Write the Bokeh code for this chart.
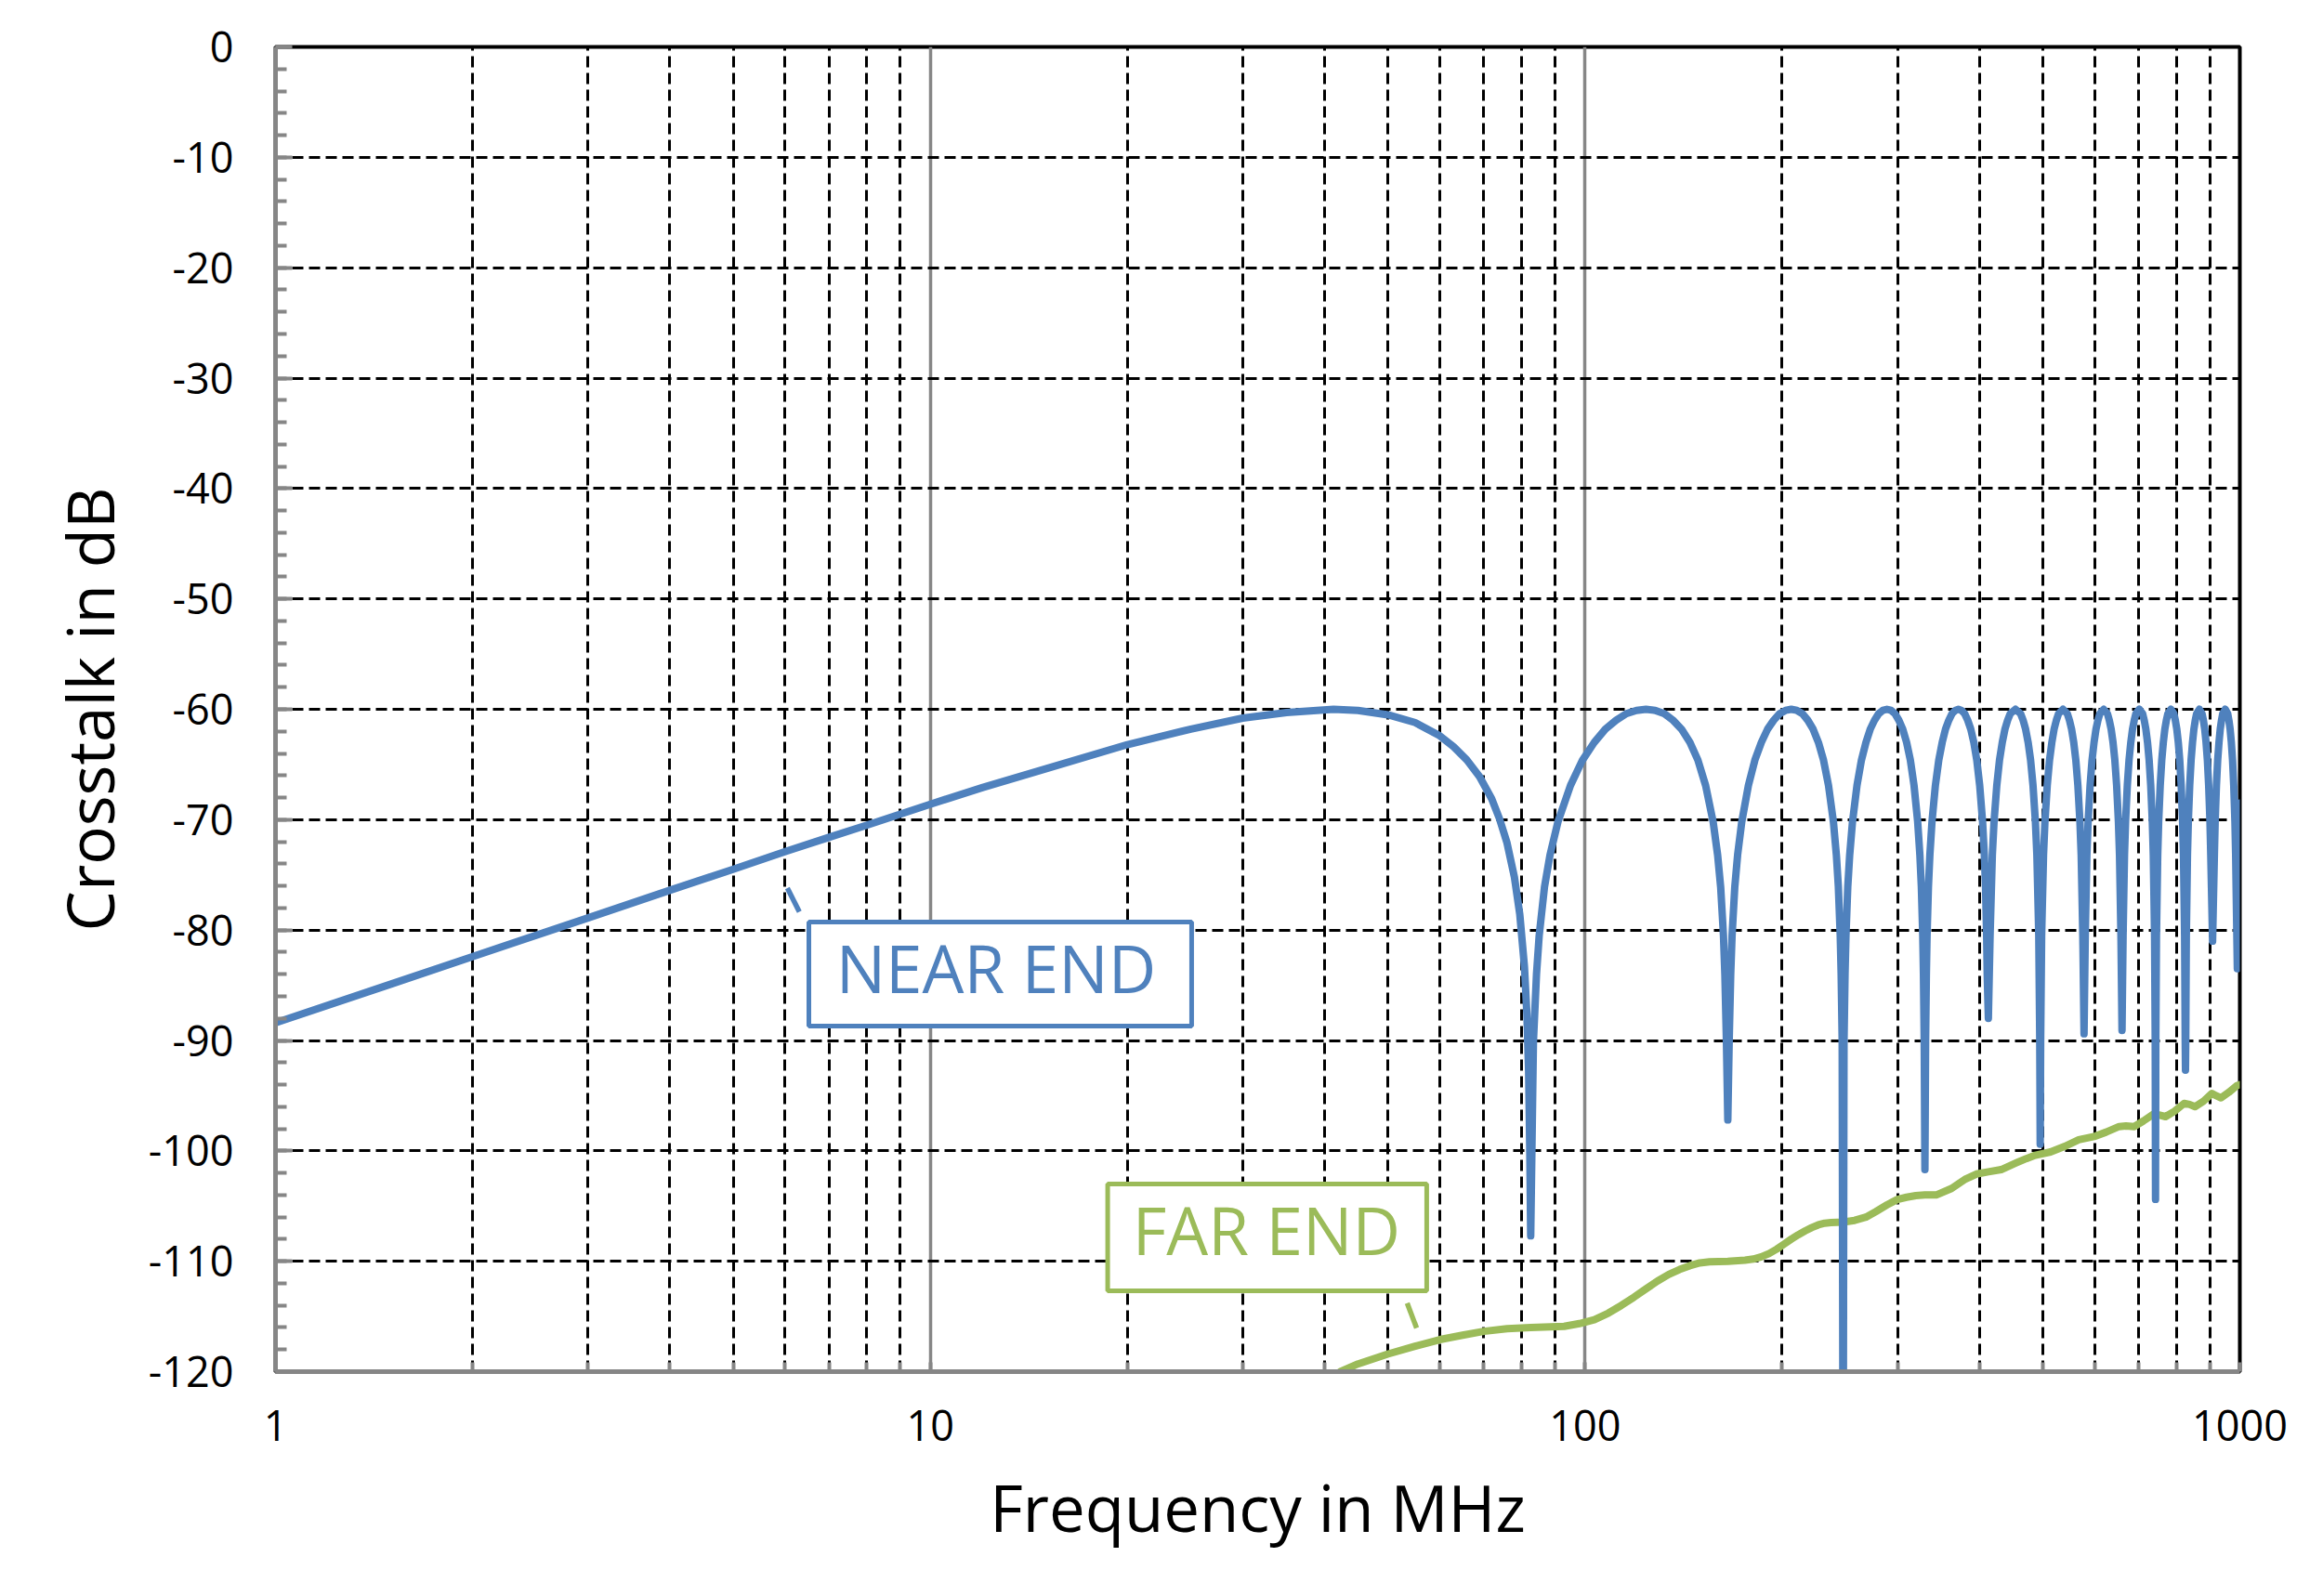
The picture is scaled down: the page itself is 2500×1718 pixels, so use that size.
from bokeh.plotting import figure
from bokeh.models import FixedTicker, PrintfTickFormatter, BoxAnnotation, Label
from bokeh.embed import file_html
from bokeh.resources import INLINE

# near end crosstalk (MHz, dB)
near_freq = [1, 1.5, 2, 3, 4, 5, 6, 7, 8, 10, 12, 15, 20, 25, 30, 35, 41.3,
             45, 50, 55, 60, 63, 66, 69, 72, 74, 76, 78, 79.5, 80.8, 81.5, 82.0, 82.35, 82.6,
             83.4, 84.3, 85.1, 86.7, 88.4, 90.9, 95.0, 99.1, 103.3, 107.4, 111.5, 115.6, 119.8, 123.9,
             128.0, 132.2, 136.3, 140.4, 144.6, 148.7, 152.8, 156.9, 159.4, 161.1, 162.7, 163.5, 164.4, 165.2,
             166.0, 166.9, 167.7, 169.3, 171.0, 173.5, 177.6, 181.7, 185.9, 190.0, 194.1, 198.2, 202.4, 206.5,
             210.6, 214.8, 218.9, 223.0, 227.2, 231.3, 235.4, 239.5, 242.0, 243.7, 245.3, 246.1, 247.0, 247.8,
             248.6, 249.5, 250.3, 251.9, 253.6, 256.1, 260.2, 264.3, 268.5, 272.6, 276.7, 280.8, 285.0, 289.1,
             293.2, 297.4, 301.5, 305.6, 309.8, 313.9, 318.0, 322.1, 324.6, 326.3, 327.9, 328.7, 329.6, 330.4,
             331.2, 332.1, 332.9, 334.5, 336.2, 338.7, 342.8, 346.9, 351.1, 355.2, 359.3, 363.4, 367.6, 371.7,
             375.8, 380.0, 384.1, 388.2, 392.4, 396.5, 400.6, 404.7, 407.2, 408.9, 410.5, 411.3, 413.0,
             415.5, 418.8, 421.3, 425.4, 429.5, 433.7, 437.8, 441.9, 446.0, 454.3,
             462.6, 466.7, 470.8, 475.0, 479.1, 483.2, 487.3, 489.8, 493.1, 494.8, 495.6,
             496.4, 498.1, 501.4, 503.9, 508.0, 512.1, 516.3, 520.4, 524.5, 528.6, 536.9,
             545.2, 549.3, 553.4, 557.6, 561.7, 565.8, 569.9, 572.4, 575.7, 578.2,
             580.7, 584.0, 586.5, 590.6, 594.7, 598.9, 603.0, 607.1, 611.2, 619.5,
             627.8, 631.9, 636.0, 640.2, 644.3, 648.4, 652.5, 655.0, 658.3, 660.8,
             663.3, 666.6, 669.1, 673.2, 677.3, 681.5, 685.6, 689.7, 693.8, 702.1,
             710.4, 714.5, 718.6, 722.8, 726.9, 731.0, 735.1, 737.6, 740.9, 742.6, 743.4,
             744.2, 745.9, 749.2, 751.7, 755.8, 759.9, 764.1, 768.2, 772.3, 776.4, 784.7,
             793.0, 797.1, 801.2, 805.4, 809.5, 813.6, 817.7, 820.2, 823.5, 825.2, 826.0,
             826.8, 828.5, 831.8, 834.3, 838.4, 842.5, 846.7, 850.8, 854.9, 859.0, 867.3,
             875.6, 879.7, 883.8, 888.0, 892.1, 896.2, 900.3, 902.8, 908.6,
             914.4, 916.9, 921.0, 925.1, 929.3, 933.4, 937.5, 941.6, 949.9,
             958.2, 962.3, 966.4, 970.6, 974.7, 978.8, 982.9, 985.4, 991.2, 1000]
near_db = [-88.4, -84.9, -82.4, -78.9, -76.4, -74.5, -72.9, -71.6, -70.5, -68.6, -67.1, -65.4, -63.2, -61.8,
           -60.8, -60.3, -60.0,
           -60.1, -60.5, -61.2, -62.4, -63.4, -64.6, -66.1, -68.1, -69.9, -72.1, -75.2, -78.6, -83.3, -87.6,
           -92.8, -100.4, -107.7,
           -90.1, -84.0, -80.5, -76.1, -73.2, -70.2, -66.9, -64.6, -63.0, -61.8, -61.0, -60.4, -60.1, -60.0,
           -60.1, -60.4, -61.0, -61.8, -63.0, -64.6, -66.9, -70.2, -73.2, -76.1, -80.5, -84.0, -90.1, -97.2,
           -90.1, -84.0, -80.5, -76.1, -73.2, -70.2, -66.9, -64.6, -63.0, -61.8, -61.0, -60.4, -60.1, -60.0,
           -60.1, -60.4, -61.0, -61.8, -63.0, -64.6, -66.9, -70.2, -73.2, -76.1, -80.5, -84.0, -90.1, -135.0,
           -90.1, -84.0, -80.5, -76.1, -73.2, -70.2, -66.9, -64.6, -63.0, -61.8, -61.0, -60.4, -60.1, -60.0,
           -60.1, -60.4, -61.0, -61.8, -63.0, -64.6, -66.9, -70.2, -73.2, -76.1, -80.5, -84.0, -90.1, -101.7,
           -90.1, -84.0, -80.5, -76.1, -73.2, -70.2, -66.9, -64.6, -63.0, -61.8, -61.0, -60.4, -60.1, -60.0,
           -60.1, -60.4, -61.0, -61.8, -63.0, -64.6, -66.9, -70.2, -73.2, -76.1, -80.5, -84.0, -88.0,
           -80.5, -73.2, -70.2, -66.9, -64.6, -63.0, -61.8, -61.0, -60.4, -60.0,
           -60.4, -61.0, -61.8, -63.0, -64.6, -66.9, -70.2, -73.2, -80.5, -90.1, -99.4,
           -90.1, -80.5, -73.2, -70.2, -66.9, -64.6, -63.0, -61.8, -61.0, -60.4, -60.0,
           -60.4, -61.0, -61.8, -63.0, -64.6, -66.9, -70.2, -73.2, -80.5, -89.4,
           -80.5, -73.2, -70.2, -66.9, -64.6, -63.0, -61.8, -61.0, -60.4, -60.0,
           -60.4, -61.0, -61.8, -63.0, -64.6, -66.9, -70.2, -73.2, -80.5, -89.1,
           -80.5, -73.2, -70.2, -66.9, -64.6, -63.0, -61.8, -61.0, -60.4, -60.0,
           -60.4, -61.0, -61.8, -63.0, -64.6, -66.9, -70.2, -73.2, -80.5, -90.1, -104.4,
           -90.1, -80.5, -73.2, -70.2, -66.9, -64.6, -63.0, -61.8, -61.0, -60.4, -60.0,
           -60.4, -61.0, -61.8, -63.0, -64.6, -66.9, -70.2, -73.2, -80.5, -90.1, -92.7,
           -90.1, -80.5, -73.2, -70.2, -66.9, -64.6, -63.0, -61.8, -61.0, -60.4, -60.0,
           -60.4, -61.0, -61.8, -63.0, -64.6, -66.9, -70.2, -73.2, -81.0,
           -73.2, -70.2, -66.9, -64.6, -63.0, -61.8, -61.0, -60.4, -60.0,
           -60.4, -61.0, -61.8, -63.0, -64.6, -66.9, -70.2, -73.2, -83.5, -68.5]

# far end crosstalk
far_freq = [40.0, 42.3, 45.0, 50.0, 55.0, 60.0, 65.0, 70.0, 76.0, 82.6, 92.9, 98.0, 103.3, 108.5, 113.6,
            118.8, 123.9, 129.0, 134.2, 139.4, 144.6, 149.7, 154.9, 165.2, 175.5, 180.7, 185.9, 191.0,
            196.2, 201.3, 206.5, 211.6, 216.8, 222.0, 227.2, 232.3, 237.5, 247.8, 258.0, 268.5, 278.0,
            289.1, 300.0, 309.8, 320.0, 330.4, 343.8, 363.0, 380.0, 396.0, 413.0, 432.0, 455.0, 472.0,
            487.0, 514.0, 540.0, 567.5, 599.0, 625.0, 654.0, 670.0, 690.0, 712.0, 737.0, 752.0, 770.0,
            795.0, 822.0, 838.0, 854.0, 880.0, 906.5, 920.0, 936.0, 962.0, 989.0, 1000.0]
far_db = [-121.0, -120.0, -119.3, -118.4, -117.7, -117.1, -116.7, -116.35, -116.1, -116.0, -115.9, -115.65,
          -115.3, -114.7, -114.0, -113.25, -112.5, -111.8, -111.2, -110.75, -110.4, -110.15, -110.05, -110.0,
          -109.9, -109.8, -109.6, -109.3, -108.9, -108.45, -108.0, -107.6, -107.25, -106.95, -106.7, -106.55,
          -106.5, -106.45, -106.3, -106.0, -105.5, -104.9, -104.4, -104.2, -104.05, -104.0, -104.0, -103.4,
          -102.6, -102.1, -101.9, -101.7, -101.1, -100.7, -100.4, -100.1, -99.6, -99.0, -98.7, -98.3, -97.8,
          -97.75, -97.8, -97.3, -96.7, -96.75, -96.9, -96.4, -95.7, -95.8, -96.0, -95.5, -94.8, -95.0,
          -95.2, -94.7, -94.1, -94.0]

x_ticks = [1, 10, 100, 1000]
x_minor = [2, 3, 4, 5, 6, 7, 8, 9, 20, 30, 40, 50, 60, 70, 80, 90,
           200, 300, 400, 500, 600, 700, 800, 900]
y_ticks = [0, -10, -20, -30, -40, -50, -60, -70, -80, -90, -100, -110, -120]
y_minor = list(range(-120, 1, 2))

BLUE = "#4F81BD"
GREEN = "#9BBB59"
AXIS_GREY = "#868686"
FONT = "Open Sans"
DASH = "12 6"

p = figure(width=2500, height=1718, x_axis_type="log", x_range=(1, 1000), y_range=(-120, 0),
           output_backend="svg", toolbar_location=None,
           min_border_left=296, min_border_right=90, min_border_top=50, min_border_bottom=242)
p.background_fill_color = "white"
p.border_fill_color = "white"
p.outline_line_color = "black"
p.outline_line_width = 4

xt = FixedTicker(ticks=x_ticks, minor_ticks=x_minor)
yt = FixedTicker(ticks=y_ticks, minor_ticks=y_minor)

for ax in (p.xaxis[0], p.yaxis[0]):
    ax.formatter = PrintfTickFormatter(format="%d")
    ax.axis_line_color = AXIS_GREY
    ax.axis_line_width = 5
    ax.major_tick_line_color = AXIS_GREY
    ax.major_tick_line_width = 4
    ax.minor_tick_line_color = AXIS_GREY
    ax.minor_tick_line_width = 4
    ax.major_tick_out = 0
    ax.minor_tick_out = 0
    ax.major_label_text_font = FONT
    ax.major_label_text_font_size = "45px"
    ax.major_label_text_color = "black"
    ax.axis_label_text_font = FONT
    ax.axis_label_text_font_size = "69px"
    ax.axis_label_text_font_style = "normal"
    ax.axis_label_text_color = "black"

p.xaxis[0].ticker = xt
p.xaxis[0].axis_label = "Frequency in MHz"
p.xaxis[0].major_tick_in = 10
p.xaxis[0].minor_tick_in = 10
p.xaxis[0].major_label_standoff = 41
p.xaxis[0].axis_label_standoff = 21

p.yaxis[0].ticker = yt
p.yaxis[0].axis_label = "Crosstalk in dB"
p.yaxis[0].major_tick_in = 18
p.yaxis[0].minor_tick_in = 12
p.yaxis[0].major_label_standoff = 45
p.yaxis[0].axis_label_standoff = 14

p.xgrid[0].ticker = xt
p.xgrid[0].grid_line_color = AXIS_GREY
p.xgrid[0].grid_line_width = 3.5
p.xgrid[0].minor_grid_line_color = "black"
p.xgrid[0].minor_grid_line_width = 3
p.xgrid[0].minor_grid_line_dash = DASH

p.ygrid[0].ticker = yt
p.ygrid[0].grid_line_color = "black"
p.ygrid[0].grid_line_width = 3
p.ygrid[0].grid_line_dash = DASH

p.line(far_freq, far_db, line_color=GREEN, line_width=8, line_join="round", line_cap="round")
p.line(near_freq, near_db, line_color=BLUE, line_width=8, line_join="round", line_cap="round")

# leader lines of the two labels
p.segment(x0=[6.05], y0=[-76.2], x1=[6.31], y1=[-78.35], line_color=BLUE, line_width=5.5)
p.segment(x0=[53.5], y0=[-113.8], x1=[55.3], y1=[-116.05], line_color=GREEN, line_width=5.5)

p.add_layout(BoxAnnotation(left=6.525, right=25.07, top=-79.27, bottom=-88.7,
                           fill_color="white", fill_alpha=1.0,
                           line_color=BLUE, line_alpha=1.0, line_width=5))
p.add_layout(Label(x=12.6, y=-83.4, text="NEAR END", text_align="center", text_baseline="alphabetic",
                   text_font=FONT, text_font_size="71px", text_color=BLUE))
p.add_layout(BoxAnnotation(left=18.66, right=57.3, top=-103.0, bottom=-112.68,
                           fill_color="white", fill_alpha=1.0,
                           line_color=GREEN, line_alpha=1.0, line_width=5))
p.add_layout(Label(x=32.6, y=-107.1, text="FAR END", text_align="center", text_baseline="alphabetic",
                   text_font=FONT, text_font_size="71px", text_color=GREEN))

open("out.html", "w").write(file_html(p, INLINE))
